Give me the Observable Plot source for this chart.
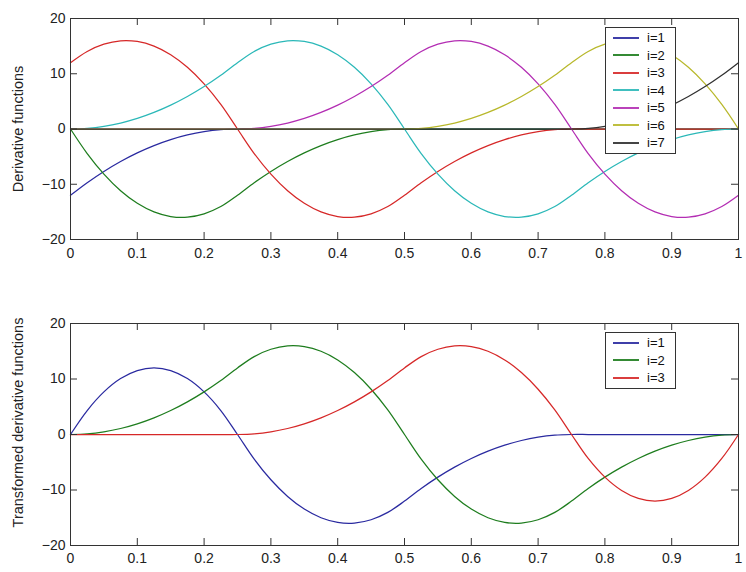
<!DOCTYPE html>
<html><head><meta charset="utf-8">
<script src="https://cdn.jsdelivr.net/npm/d3@7"></script>
<script src="https://cdn.jsdelivr.net/npm/@observablehq/plot@0.6"></script>
<style>
body{margin:0;background:#fff;font-family:"Liberation Sans",Arial,sans-serif;}
.panel{position:relative;width:746px;height:286px;}
.panel svg{overflow:visible;display:block;}
.legend{position:absolute;left:605px;width:69px;border:1px solid #333;background:#fff;padding:1px 0;font-size:13px;color:#111;box-sizing:content-box;}
.row{height:17.5px;display:flex;align-items:center;}
.sw{width:26px;height:2px;margin-left:7px;margin-right:8px;opacity:0.9;}
</style></head><body>
<div id="top" class="panel"></div>
<div id="bot" class="panel"></div>
<script>
const xs = [0,0.025,0.05,0.075,0.1,0.125,0.15,0.175,0.2,0.225,0.25,0.275,0.3,0.325,0.35,0.375,0.4,0.425,0.45,0.475,0.5,0.525,0.55,0.575,0.6,0.625,0.65,0.675,0.7,0.725,0.75,0.775,0.8,0.825,0.85,0.875,0.9,0.925,0.95,0.975,1];
const xTicks = [0,0.1,0.2,0.3,0.4,0.5,0.6,0.7,0.8,0.9,1];
const yTicks = [-20,-10,0,10,20];

// top panel: derivative functions
const d1 = [-12,-9.72,-7.68,-5.88,-4.32,-3,-1.92,-1.08,-0.48,-0.12,0,0,0,0,0,0,0,0,0,0,0,0,0,0,0,0,0,0,0,0,0,0,0,0,0,0,0,0,0,0,0];
const d2 = [0,-4.44,-8.16,-11.16,-13.44,-15,-15.84,-15.96,-15.36,-14.04,-12,-9.72,-7.68,-5.88,-4.32,-3,-1.92,-1.08,-0.48,-0.12,0,0,0,0,0,0,0,0,0,0,0,0,0,0,0,0,0,0,0,0,0];
const d3 = [12,14.04,15.36,15.96,15.84,15,13.44,11.16,8.16,4.44,0,-4.44,-8.16,-11.16,-13.44,-15,-15.84,-15.96,-15.36,-14.04,-12,-9.72,-7.68,-5.88,-4.32,-3,-1.92,-1.08,-0.48,-0.12,0,0,0,0,0,0,0,0,0,0,0];
const d4 = [0,0.12,0.48,1.08,1.92,3,4.32,5.88,7.68,9.72,12,14.04,15.36,15.96,15.84,15,13.44,11.16,8.16,4.44,0,-4.44,-8.16,-11.16,-13.44,-15,-15.84,-15.96,-15.36,-14.04,-12,-9.72,-7.68,-5.88,-4.32,-3,-1.92,-1.08,-0.48,-0.12,0];
const d5 = [0,0,0,0,0,0,0,0,0,0,0,0.12,0.48,1.08,1.92,3,4.32,5.88,7.68,9.72,12,14.04,15.36,15.96,15.84,15,13.44,11.16,8.16,4.44,0,-4.44,-8.16,-11.16,-13.44,-15,-15.84,-15.96,-15.36,-14.04,-12];
const d6 = [0,0,0,0,0,0,0,0,0,0,0,0,0,0,0,0,0,0,0,0,0,0.12,0.48,1.08,1.92,3,4.32,5.88,7.68,9.72,12,14.04,15.36,15.96,15.84,15,13.44,11.16,8.16,4.44,0];
const d7 = [0,0,0,0,0,0,0,0,0,0,0,0,0,0,0,0,0,0,0,0,0,0,0,0,0,0,0,0,0,0,0,0.12,0.48,1.08,1.92,3,4.32,5.88,7.68,9.72,12];

// bottom panel: transformed derivative functions
const t1 = [0,4.32,7.68,10.08,11.52,12,11.52,10.08,7.68,4.32,0,-4.44,-8.16,-11.16,-13.44,-15,-15.84,-15.96,-15.36,-14.04,-12,-9.72,-7.68,-5.88,-4.32,-3,-1.92,-1.08,-0.48,-0.12,0,0,0,0,0,0,0,0,0,0,0];
const t2 = [0,0.12,0.48,1.08,1.92,3,4.32,5.88,7.68,9.72,12,14.04,15.36,15.96,15.84,15,13.44,11.16,8.16,4.44,0,-4.44,-8.16,-11.16,-13.44,-15,-15.84,-15.96,-15.36,-14.04,-12,-9.72,-7.68,-5.88,-4.32,-3,-1.92,-1.08,-0.48,-0.12,0];
const t3 = [0,0,0,0,0,0,0,0,0,0,0,0.12,0.48,1.08,1.92,3,4.32,5.88,7.68,9.72,12,14.04,15.36,15.96,15.84,15,13.44,11.16,8.16,4.44,0,-4.32,-7.68,-10.08,-11.52,-12,-11.52,-10.08,-7.68,-4.32,0];

const topNames = ["i=1","i=2","i=3","i=4","i=5","i=6","i=7"];
const topColors = ["#2a2aa0","#1e7d1e","#d62828","#2bb8b8","#b32db3","#b8b82b","#303030"];
const botNames = ["i=1","i=2","i=3"];
const botColors = ["#2a2aa0","#1e7d1e","#d62828"];
const topLabel = "Derivative functions";
const botLabel = "Transformed derivative functions";

function panel(el, names, colors, values, cfg) {
  const rows = [];
  names.forEach((n, i) => values[i].forEach((v, k) => rows.push({x: xs[k], y: v, name: n})));
  const H = 286, W = 746, ml = 70, mr = 8;
  const fh = H - cfg.mt - cfg.mb, fw = W - ml - mr;
  const tl = 7, ink = "#333";
  const chart = Plot.plot({
    width: W, height: H,
    marginTop: cfg.mt, marginBottom: cfg.mb, marginLeft: ml, marginRight: mr,
    style: {fontFamily: "'Liberation Sans', Arial, sans-serif", fontSize: "14px", color: "#222", background: "#fff"},
    x: {domain: [0, 1], ticks: xTicks, tickSize: 0, tickPadding: cfg.xpad, label: null, tickFormat: d => String(d)},
    y: {domain: [-20, 20], ticks: yTicks, tickSize: 0, tickPadding: 5, label: null},
    color: {domain: names, range: colors},
    marks: [
      Plot.line(rows, {x: "x", y: "y", z: "name", stroke: "name", strokeWidth: 1.25, curve: "catmull-rom"}),
      Plot.frame({stroke: ink}),
      Plot.tickX(xTicks, {x: d => d, insetTop: fh - tl, stroke: ink}),
      Plot.tickX(xTicks, {x: d => d, insetBottom: fh - tl, stroke: ink}),
      Plot.tickY(yTicks, {y: d => d, insetRight: fw - tl, stroke: ink}),
      Plot.tickY(yTicks, {y: d => d, insetLeft: fw - tl, stroke: ink}),
      Plot.text([cfg.label], {text: d => d, frameAnchor: "left", textAnchor: "middle", lineAnchor: "middle", rotate: -90, dx: -52, dy: cfg.ldy, fontSize: 14.5, fill: "#222"})
    ]
  });
  el.append(chart);
  const lg = document.createElement("div");
  lg.className = "legend";
  lg.style.top = cfg.legTop + "px";
  names.forEach((n, i) => {
    const r = document.createElement("div"); r.className = "row";
    const s = document.createElement("span"); s.className = "sw"; s.style.background = colors[i];
    const t = document.createElement("span"); t.textContent = n;
    r.append(s, t); lg.append(r);
  });
  el.append(lg);
}

panel(document.getElementById("top"), topNames, topColors, [d1,d2,d3,d4,d5,d6,d7],
  {mt: 18, mb: 47, xpad: 9, label: topLabel, ldy: 0, legTop: 27});
panel(document.getElementById("bot"), botNames, botColors, [t1,t2,t3],
  {mt: 37, mb: 27, xpad: 8, label: botLabel, ldy: -12, legTop: 46});
</script>
</body></html>
